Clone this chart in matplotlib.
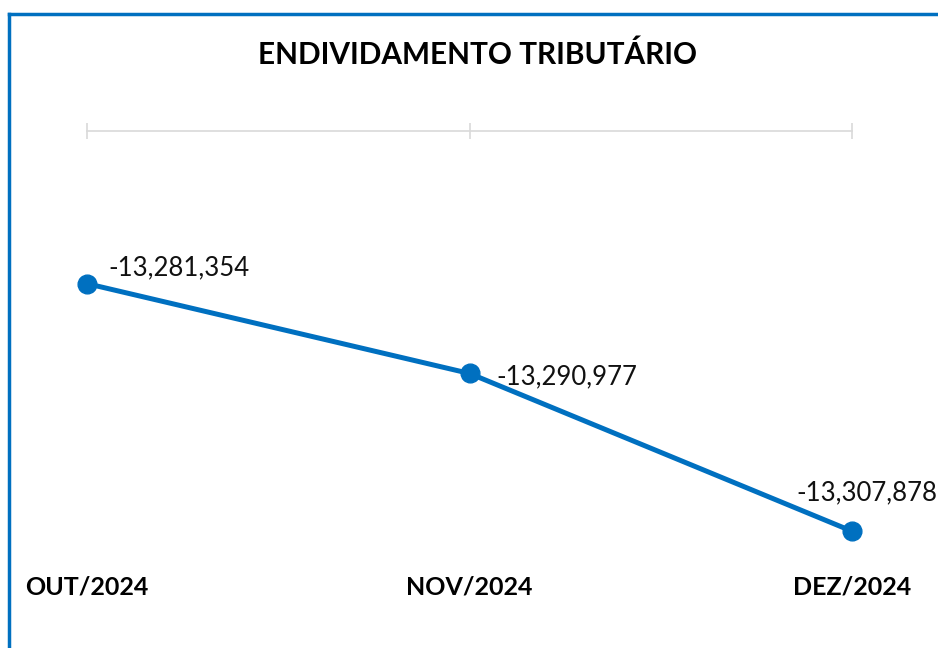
import matplotlib.pyplot as plt
from matplotlib.lines import Line2D

meses = ['OUT/2024', 'NOV/2024', 'DEZ/2024']
valores = [-13281354, -13290977, -13307878]
rotulos = ['-13,281,354', '-13,290,977', '-13,307,878']

azul = '#0070C0'
cinza = '#D9D9D9'

fig = plt.figure(figsize=(9.38, 6.48), dpi=100)
ax = fig.add_axes([87/938, 97/648, 765/938, 420/648])

x = list(range(len(meses)))
ax.plot(x, valores, color=azul, lw=3.6, marker='o', ms=13.5, zorder=3, clip_on=False)

ax.set_xlim(0, 2)
ax.set_ylim(-13310000, -13265000)

# eixo das categorias fica no topo
for s in ['left', 'right', 'bottom']:
    ax.spines[s].set_visible(False)
ax.spines['top'].set_color(cinza)
ax.spines['top'].set_linewidth(1.2)
ax.set_yticks([])
ax.set_xticks(x)
ax.tick_params(axis='x', top=True, bottom=False, labeltop=False, labelbottom=False,
               direction='inout', length=12, width=1.2, color=cinza)

fonte = 'Lato'
for i, m in enumerate(meses):
    ax.annotate(m, (i, 0), xycoords=('data', 'figure fraction'), xytext=(0, 648 - 587),
                textcoords='offset pixels', ha='center', va='center',
                fontsize=18, fontweight='bold', family=fonte, annotation_clip=False)

desloc = [(21, 16), (27, -3), (15, 38)]
alin = ['left', 'left', 'center']
for i, (v, r) in enumerate(zip(valores, rotulos)):
    ax.annotate(r, (i, v), xytext=desloc[i], textcoords='offset pixels',
                ha=alin[i], va='center', fontsize=18.5, family=fonte,
                color='#111111', annotation_clip=False)

fig.text(478/938, 1 - 55/648, 'ENDIVIDAMENTO TRIBUTÁRIO', ha='center', va='center',
         fontsize=21.4, fontweight='bold', family=fonte)

# moldura azul (esquerda e topo)
fig.add_artist(Line2D([9/938, 9/938], [0, 1 - 14/648], color=azul, lw=2.5,
                      transform=fig.transFigure))
fig.add_artist(Line2D([9/938, 1], [1 - 14/648, 1 - 14/648], color=azul, lw=2.5,
                      transform=fig.transFigure))

fig.savefig('out.png', dpi=100)
